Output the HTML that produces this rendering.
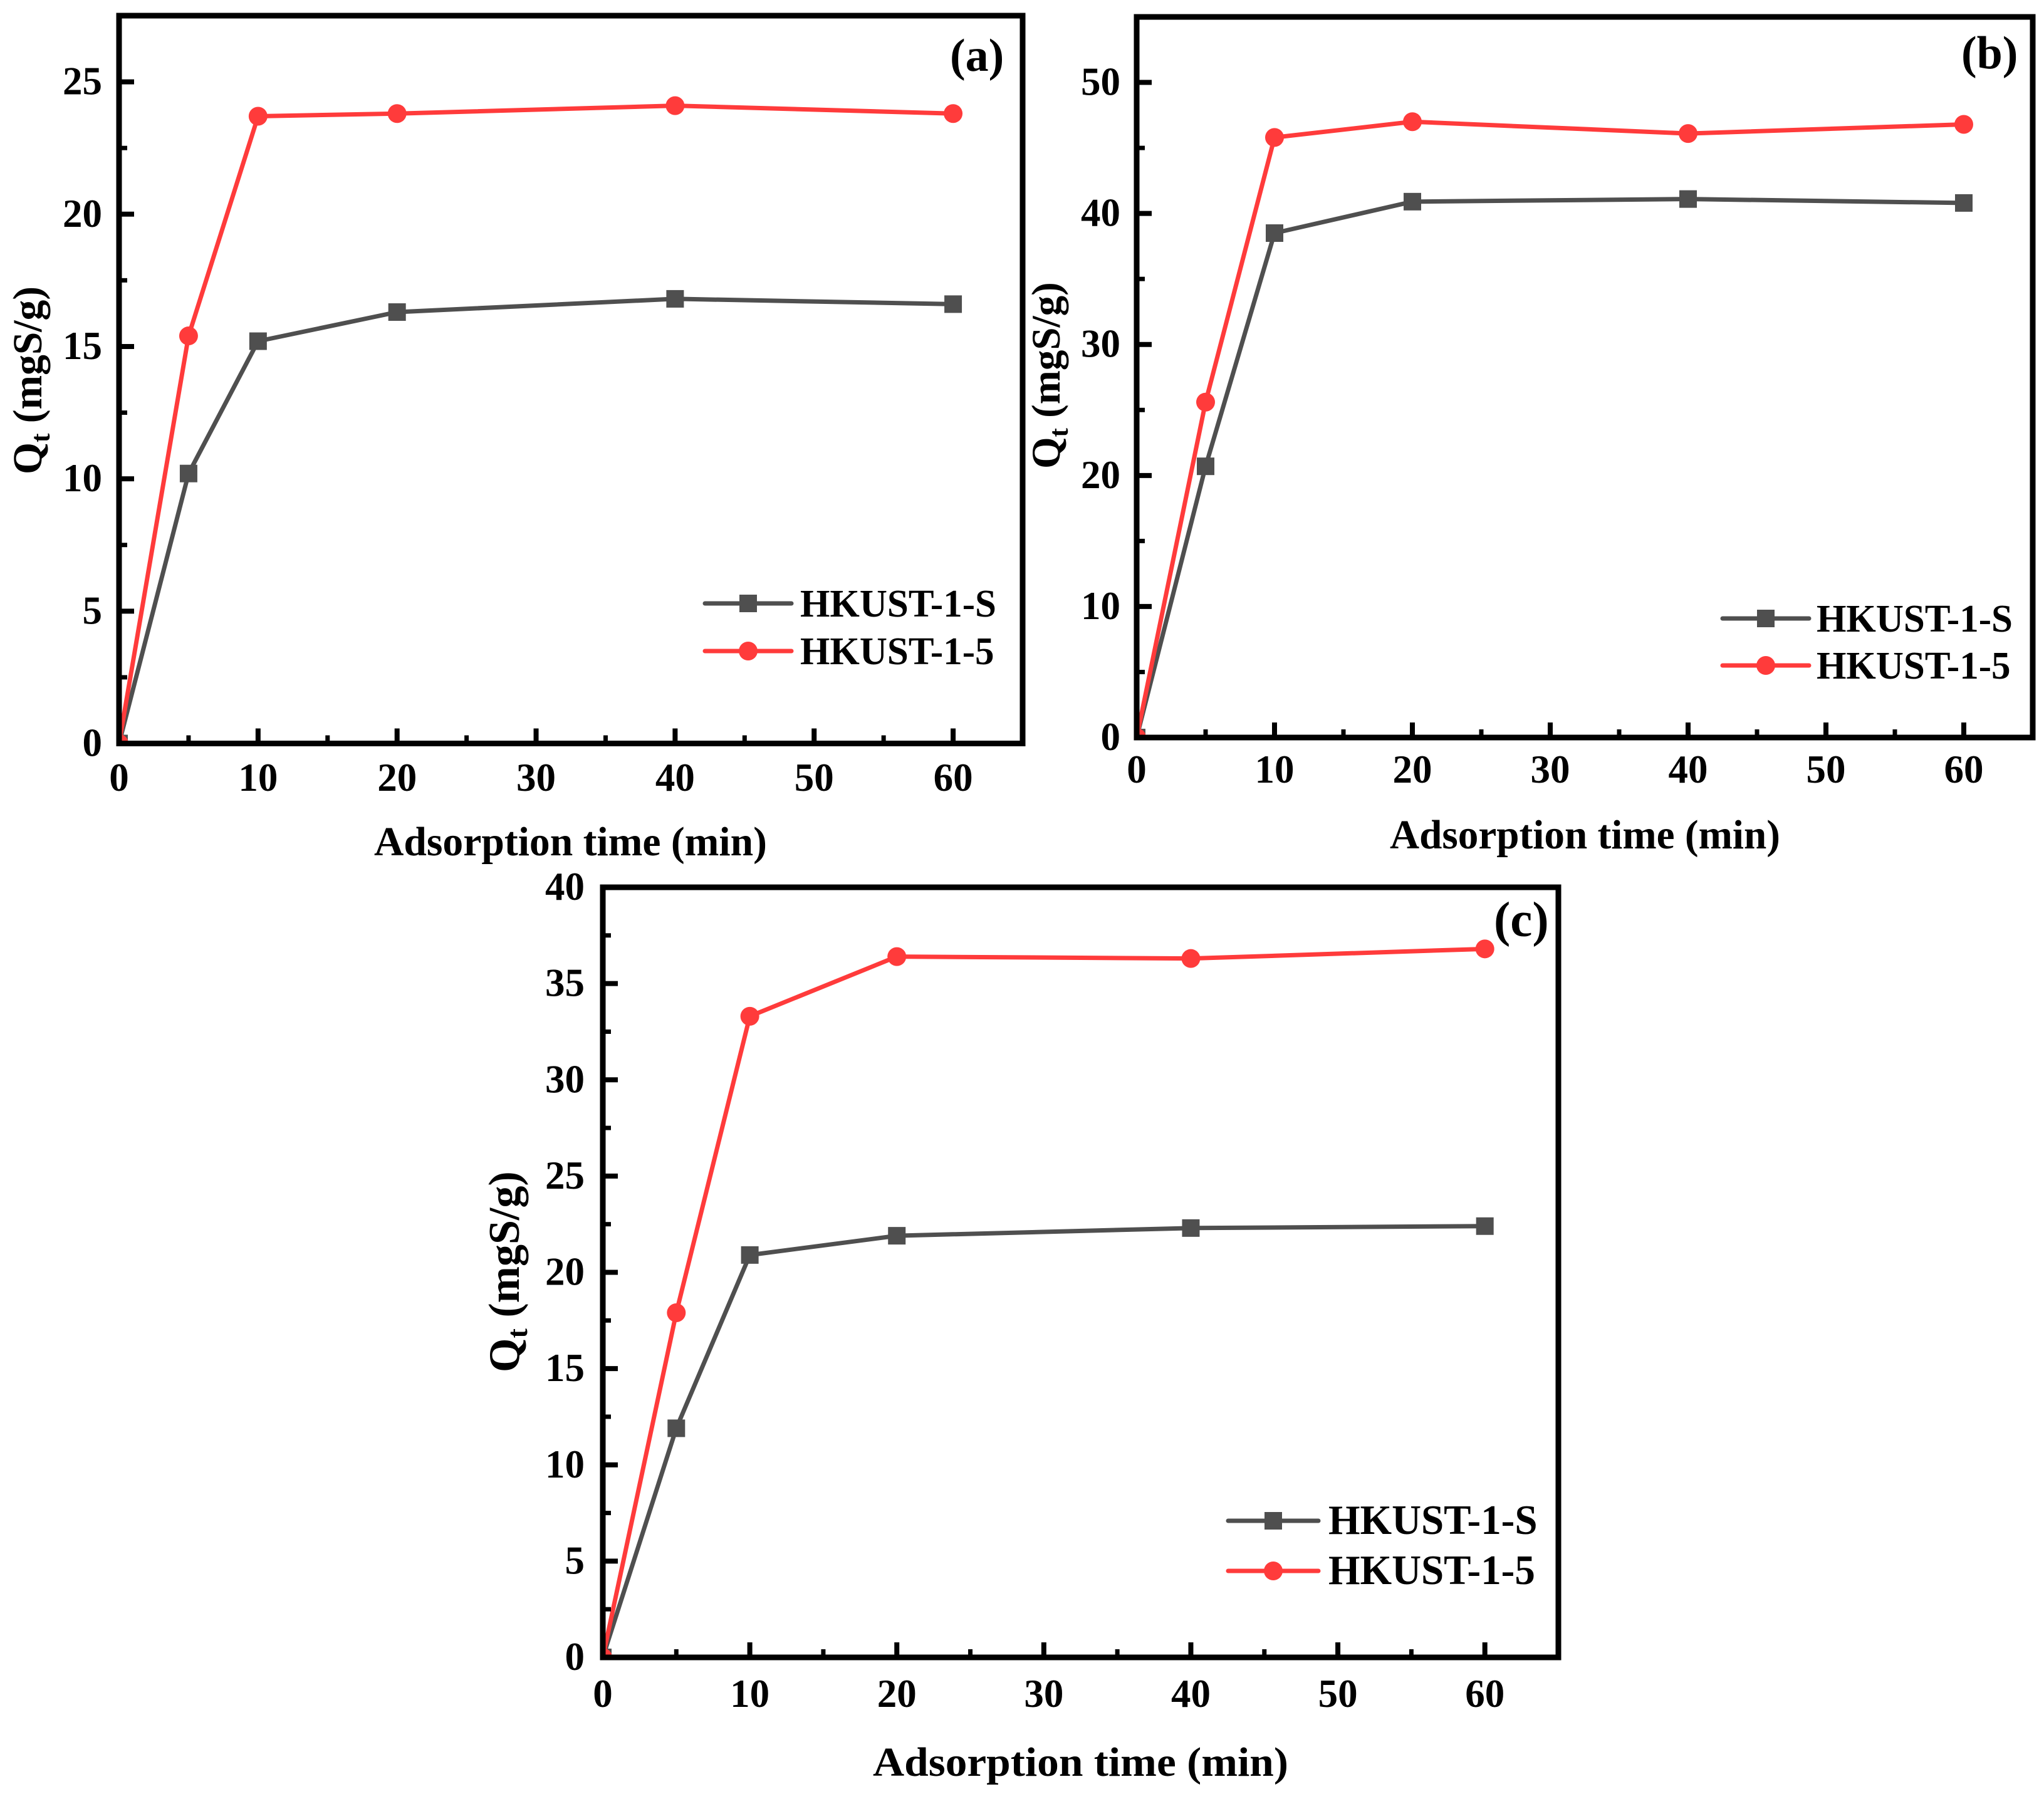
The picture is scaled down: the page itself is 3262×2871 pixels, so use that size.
<!DOCTYPE html>
<html lang="en">
<head>
<meta charset="utf-8">
<title>Adsorption kinetics of HKUST-1 samples</title>
<style>
  html, body { margin: 0; padding: 0; background: #fff; }
  svg { display: block; }
  text { font-family: "Liberation Serif", serif; font-weight: bold; fill: #000; }
</style>
</head>
<body>
<svg id="figure" xmlns="http://www.w3.org/2000/svg" width="3262" height="2871" viewBox="0 0 3262 2871"></svg>
<script>
const times = [0, 5, 10, 20, 40, 60];
const panelASeriesS = [0, 10.2, 15.2, 16.3, 16.8, 16.6];
const panelASeries5 = [0, 15.4, 23.7, 23.8, 24.1, 23.8];
const panelBSeriesS = [0, 20.7, 38.5, 40.9, 41.1, 40.8];
const panelBSeries5 = [0, 25.6, 45.8, 47.0, 46.1, 46.8];
const panelCSeriesS = [0, 11.9, 20.9, 21.9, 22.3, 22.4];
const panelCSeries5 = [0, 17.9, 33.3, 36.4, 36.3, 36.8];
const xMajorTicks = [0, 10, 20, 30, 40, 50, 60];
const xMinorTicks = [5, 15, 25, 35, 45, 55];
const panelAYMajor = [0, 5, 10, 15, 20, 25];
const panelAYMinor = [2.5, 7.5, 12.5, 17.5, 22.5];
const panelBYMajor = [0, 10, 20, 30, 40, 50];
const panelBYMinor = [5, 15, 25, 35, 45];
const panelCYMajor = [0, 5, 10, 15, 20, 25, 30, 35, 40];
const panelCYMinor = [2.5, 7.5, 12.5, 17.5, 22.5, 27.5, 32.5, 37.5];
const xMax = 65;
const panelAYMax = 27.5;
const panelBYMax = 55;
const panelCYMax = 40;
const seriesNames = ["HKUST-1-S", "HKUST-1-5"];

const GREY = "#4f4f4f";
const RED = "#ff3b3b";
const NS = "http://www.w3.org/2000/svg";
const root = document.getElementById("figure");

function make(tag, attrs, parent) {
  const node = document.createElementNS(NS, tag);
  for (const key in attrs) node.setAttribute(key, attrs[key]);
  parent.appendChild(node);
  return node;
}

function drawPanel(cfg) {
  const g = make("g", {}, root);
  
  

  const xScale = v => cfg.left + (v / xMax) * (cfg.right - cfg.left);
  const yScale = v => cfg.bottom - (v / cfg.yMax) * (cfg.bottom - cfg.top);

  const clip = make("clipPath", { id: "clip-" + cfg.id }, g);
  make("rect", { x: cfg.left, y: cfg.top, width: cfg.right - cfg.left, height: cfg.bottom - cfg.top }, clip);

  const plotted = make("g", { "clip-path": "url(#clip-" + cfg.id + ")" }, g);
  
  

  [[cfg.seriesS, GREY, "s"], [cfg.series5, RED, "5"]].forEach(([values, color, key]) => {
    const line = make("polyline", {
      points: times.map((t, i) => xScale(t) + "," + yScale(values[i])).join(" "),
      fill: "none", stroke: color, "stroke-width": 7, "stroke-linejoin": "round"
    }, plotted);
    
    
    times.forEach((t, i) => {
      const px = xScale(t), py = yScale(values[i]);
      const mark = key === "s"
        ? make("rect", { x: px - 14, y: py - 14, width: 28, height: 28, fill: color }, plotted)
        : make("circle", { cx: px, cy: py, r: 15, fill: color }, plotted);
      
      
    });
  });

  const frame = make("rect", {
    x: cfg.left, y: cfg.top, width: cfg.right - cfg.left, height: cfg.bottom - cfg.top,
    fill: "none", stroke: "#000", "stroke-width": 9
  }, g);
  
  

  xMajorTicks.forEach(v => {
    const tick = make("line", { x1: xScale(v), x2: xScale(v), y1: cfg.bottom, y2: cfg.bottom - 24, stroke: "#000", "stroke-width": 8 }, g);
    
    
    const label = make("text", {
      x: xScale(v), y: cfg.xTickBase,
      "font-size": 63, "text-anchor": "middle"
    }, g);
    label.textContent = String(v);
    
    
  });
  xMinorTicks.forEach(v => {
    const tick = make("line", { x1: xScale(v), x2: xScale(v), y1: cfg.bottom, y2: cfg.bottom - 13, stroke: "#000", "stroke-width": 7 }, g);
    
    
  });
  cfg.yMajor.forEach(v => {
    const tick = make("line", { x1: cfg.left, x2: cfg.left + 24, y1: yScale(v), y2: yScale(v), stroke: "#000", "stroke-width": 8 }, g);
    
    
    const label = make("text", {
      x: cfg.yTickRight, y: yScale(v) + 20,
      "font-size": 63, "text-anchor": "end"
    }, g);
    label.textContent = String(v);
    
    
  });
  cfg.yMinor.forEach(v => {
    const tick = make("line", { x1: cfg.left, x2: cfg.left + 13, y1: yScale(v), y2: yScale(v), stroke: "#000", "stroke-width": 7 }, g);
    
    
  });

  const xTitle = make("text", {
    x: cfg.xTitleX, y: cfg.xTitleBase, "font-size": 66,
    textLength: cfg.xTitleLen, lengthAdjust: "spacingAndGlyphs"
  }, g);
  xTitle.textContent = "Adsorption time (min)";
  
  

  const yTitle = make("text", {
    transform: "translate(" + cfg.yTitleX + "," + cfg.yTitleY + ") rotate(-90)",
    "font-size": cfg.yTitleFont
  }, g);
  
  
  const q = make("tspan", {}, yTitle);
  q.textContent = "Q";
  const sub = make("tspan", { "font-size": cfg.yTitleFont * 0.66, dy: 13 }, yTitle);
  sub.textContent = "t";
  const unit = make("tspan", { dy: -13 }, yTitle);
  unit.textContent = " (mgS/g)";

  const panelLabel = make("text", { x: cfg.tagX, y: cfg.tagY, "font-size": cfg.tagFont }, g);
  panelLabel.textContent = "(" + cfg.id + ")";
  
  

  const legend = make("g", {}, g);
  
  
  seriesNames.forEach((name, i) => {
    const entry = make("g", {}, legend);
    
    
    const color = i === 0 ? GREY : RED;
    const ly = cfg.legendY[i];
    make("line", { x1: cfg.legendX1, x2: cfg.legendX2, y1: ly, y2: ly, stroke: color, "stroke-width": 7, "stroke-linecap": "round" }, entry);
    const mid = (cfg.legendX1 + cfg.legendX2) / 2;
    if (i === 0) make("rect", { x: mid - 14, y: ly - 14, width: 28, height: 28, fill: color }, entry);
    else make("circle", { cx: mid, cy: ly, r: 15, fill: color }, entry);
    const text = make("text", {
      transform: "translate(" + cfg.legendTextX + "," + (ly + 21) + ") scale(1,1.03)",
      "font-size": cfg.legendFont
    }, entry);
    text.textContent = name;
  });
}

drawPanel({
  id: "a", left: 190, right: 1632, top: 25, bottom: 1186.5, yMax: panelAYMax,
  seriesS: panelASeriesS, series5: panelASeries5, yMajor: panelAYMajor, yMinor: panelAYMinor,
  xTickBase: 1262, yTickRight: 163, xTitleX: 597, xTitleBase: 1365, xTitleLen: 627,
  yTitleX: 66, yTitleY: 757, yTitleFont: 65.5, tagX: 1516, tagY: 113, tagFont: 74,
  legendX1: 1125, legendX2: 1263, legendY: [963, 1039], legendTextX: 1277, legendFont: 61
});
drawPanel({
  id: "b", left: 1814, right: 3244, top: 27, bottom: 1177, yMax: panelBYMax,
  seriesS: panelBSeriesS, series5: panelBSeries5, yMajor: panelBYMajor, yMinor: panelBYMinor,
  xTickBase: 1249, yTickRight: 1788, xTitleX: 2218, xTitleBase: 1354, xTitleLen: 623,
  yTitleX: 1691, yTitleY: 748, yTitleFont: 65, tagX: 3130, tagY: 109, tagFont: 74,
  legendX1: 2749, legendX2: 2887, legendY: [987, 1062], legendTextX: 2899, legendFont: 61
});
drawPanel({
  id: "c", left: 962, right: 2487, top: 1416, bottom: 2645, yMax: panelCYMax,
  seriesS: panelCSeriesS, series5: panelCSeries5, yMajor: panelCYMajor, yMinor: panelCYMinor,
  xTickBase: 2724, yTickRight: 933, xTitleX: 1393, xTitleBase: 2834, xTitleLen: 663,
  yTitleX: 828, yTitleY: 2190, yTitleFont: 70, tagX: 2384, tagY: 1494, tagFont: 79,
  legendX1: 1960, legendX2: 2104, legendY: [2427, 2507], legendTextX: 2120, legendFont: 65
});
</script>
</body>
</html>
